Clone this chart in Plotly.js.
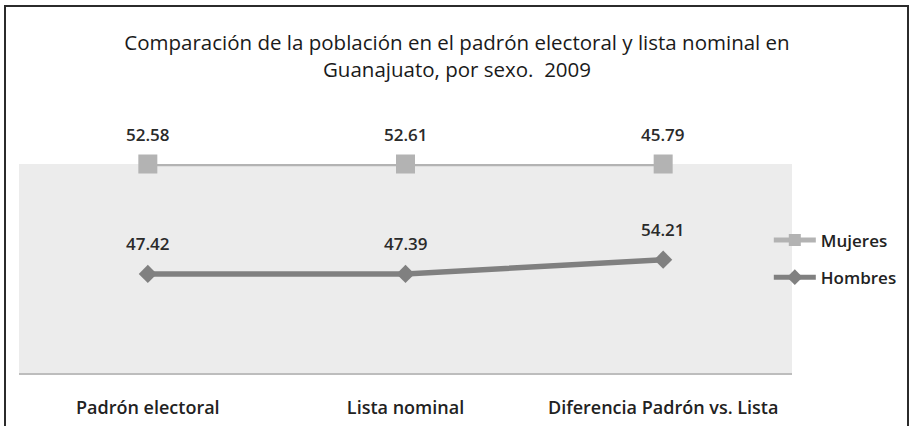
<!DOCTYPE html>
<html><head><meta charset="utf-8">
<script src="https://cdn.plot.ly/plotly-3.0.1.min.js"></script>
<style>
body{margin:0;background:#fff}
#wrap{position:relative;width:914px;height:426px;overflow:hidden}
#chart{width:914px;height:426px}
#frame{position:absolute;left:4px;top:5px;width:901px;height:440px;border:2px solid #2b2b2b;pointer-events:none}
</style>
</head><body>
<div id="wrap"><div id="chart"></div><div id="frame"></div></div>
<script>
const categories = ['Padrón electoral', 'Lista nominal', 'Diferencia Padrón vs. Lista'];
const mujeres = [52.58, 52.61, 45.79];
const hombres = [47.42, 47.39, 54.21];
const seriesNames = ['Mujeres', 'Hombres'];
const titleText = 'Comparación de la población en el padrón electoral y lista nominal en<br>Guanajuato, por sexo.  2009';

// stacked line chart: Mujeres is stacked on top of Hombres
const mujeresStacked = hombres.map((h, i) => h + mujeres[i]);

const FONT = '"Open Sans", "Noto Sans", sans-serif';
const cM = '#b3b3b3', cH = '#808080';

const traces = [
  {
    x: categories, y: mujeresStacked, name: seriesNames[0], type: 'scatter', mode: 'lines+markers',
    line: {color: cM, width: 4.5}, marker: {symbol: 'square', size: 19, color: cM},
    cliponaxis: false, hoverinfo: 'skip', legendgroup: 'm'
  },
  {
    x: categories, y: hombres, name: seriesNames[1], type: 'scatter', mode: 'lines+markers',
    line: {color: cH, width: 5.5}, marker: {symbol: 'diamond', size: 14, color: cH},
    cliponaxis: false, hoverinfo: 'skip', legendgroup: 'h'
  }
];

const labelFont = {family: FONT, size: 17, color: '#2a2a2a', weight: 600};
const annotations = [];
categories.forEach((c, i) => {
  annotations.push({x: c, y: mujeresStacked[i], text: mujeres[i].toFixed(2), showarrow: false,
    yshift: 30, yanchor: 'middle', font: labelFont});
  annotations.push({x: c, y: hombres[i], text: hombres[i].toFixed(2), showarrow: false,
    yshift: 30, yanchor: 'middle', font: labelFont});
});

const layout = {
  width: 914, height: 426,
  margin: {l: 19, r: 120, t: 164, b: 53},
  paper_bgcolor: '#ffffff', plot_bgcolor: '#ececec',
  font: {family: FONT, color: '#222'},
  title: {text: titleText, x: 0.5, xref: 'container', xanchor: 'center', y: 1 - 50 / 426, yref: 'container', yanchor: 'middle',
    font: {family: FONT, size: 20.5, color: '#1a1a1a', weight: 500}},
  xaxis: {type: 'category', range: [-0.5, 2.5], showgrid: false, zeroline: false,
    showline: true, linecolor: '#bdbdbd', linewidth: 2, ticks: '', ticklabelstandoff: 17,
    tickfont: {family: FONT, size: 18, color: '#222', weight: 600}, fixedrange: true},
  yaxis: {range: [0, 100], visible: false, fixedrange: true},
  showlegend: true,
  legend: {x: 0.97, xanchor: 'left', y: 0.72, yanchor: 'top', bgcolor: 'rgba(0,0,0,0)',
    itemsizing: 'constant', itemwidth: 42, tracegroupgap: 12, traceorder: 'grouped',
    font: {family: FONT, size: 17, color: '#222', weight: 600}},
  annotations: annotations
};

Plotly.newPlot('chart', traces, layout, {staticPlot: true, displayModeBar: false});
</script>
</body></html>
